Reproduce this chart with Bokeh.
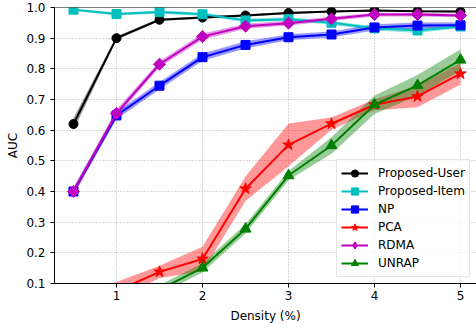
from bokeh.plotting import figure
from bokeh.models import Range1d, Span, Legend, LegendItem, FixedTicker
from bokeh.embed import file_html
from bokeh.resources import INLINE
import numpy as np

# ---- data ----
density = [0.5, 1.0, 1.5, 2.0, 2.5, 3.0, 3.5, 4.0, 4.5, 5.0]

proposed_user = [0.62, 0.90, 0.96, 0.967, 0.974, 0.982, 0.987, 0.99, 0.988, 0.987]
proposed_user_sd = [0.02, 0.006, 0.004, 0.004, 0.004, 0.003, 0.003, 0.003, 0.003, 0.003]

proposed_item = [0.993, 0.979, 0.985, 0.978, 0.958, 0.962, 0.95, 0.932, 0.925, 0.938]
proposed_item_sd = [0.004, 0.005, 0.005, 0.006, 0.006, 0.006, 0.006, 0.007, 0.008, 0.006]

np_auc = [0.40, 0.648, 0.745, 0.838, 0.878, 0.903, 0.912, 0.935, 0.941, 0.942]
np_sd = [0.012, 0.012, 0.012, 0.012, 0.012, 0.01, 0.01, 0.01, 0.01, 0.01]

pca = [0.03, 0.075, 0.138, 0.18, 0.409, 0.552, 0.621, 0.683, 0.71, 0.784]
pca_sd = [0.03, 0.03, 0.02, 0.04, 0.04, 0.07, 0.02, 0.018, 0.035, 0.035]

rdma = [0.40, 0.655, 0.815, 0.905, 0.939, 0.949, 0.963, 0.977, 0.977, 0.974]
rdma_sd = [0.012, 0.012, 0.01, 0.01, 0.008, 0.008, 0.007, 0.006, 0.006, 0.006]

unrap = [0.01, 0.03, 0.08, 0.151, 0.278, 0.452, 0.55, 0.683, 0.746, 0.829]
unrap_sd = [0.015, 0.015, 0.015, 0.015, 0.015, 0.015, 0.027, 0.03, 0.034, 0.035]

series_names = ["Proposed-User", "Proposed-Item", "NP", "PCA", "RDMA", "UNRAP"]
x_ticks = [1, 2, 3, 4, 5]
y_ticks = [0.1, 0.2, 0.3, 0.4, 0.5, 0.6, 0.7, 0.8, 0.9, 1.0]
y_tick_labels = ["0.1", "0.2", "0.3", "0.4", "0.5", "0.6", "0.7", "0.8", "0.9", "1.0"]

# ---- styles ----
FONT = "DejaVu Sans"
styles = [
    dict(color="#000000", marker="circle", size=9, angle=0.0, leg_marker="circle", leg_size=9),
    dict(color="#00bfbf", marker="square", size=9, angle=0.0, leg_marker="square", leg_size=9),
    dict(color="#0000ff", marker="square", size=9, angle=0.0, leg_marker="square", leg_size=9),
    dict(color="#ff0000", marker="star", size=12, angle=0.0, leg_marker="star", leg_size=12),
    dict(color="#bf00bf", marker="square", size=8.5, angle=np.pi / 4, leg_marker="diamond", leg_size=13),
    dict(color="#008000", marker="triangle", size=11, angle=0.0, leg_marker="triangle", leg_size=11),
]
values = [proposed_user, proposed_item, np_auc, pca, rdma, unrap]
sds = [proposed_user_sd, proposed_item_sd, np_sd, pca_sd, rdma_sd, unrap_sd]

p = figure(width=476, height=329, output_backend="svg", toolbar_location=None,
           x_range=Range1d(0.2791, 5.186), y_range=Range1d(0.1, 1.0),
           min_border_left=54, min_border_right=0, min_border_top=7,
           min_border_bottom=46)
p.outline_line_color = None
p.background_fill_color = "white"
p.border_fill_color = "white"

# bands first (beneath all lines)
for vals, sd, st in zip(values, sds, styles):
    v = np.array(vals)
    s = np.array(sd)
    p.varea(x=density, y1=v - s, y2=v + s, fill_color=st["color"], fill_alpha=0.4)

items = []
for name, vals, st in zip(series_names, values, styles):
    r1 = p.line(density, vals, line_color=st["color"], line_width=2)
    r2 = p.scatter(density, vals, marker=st["marker"], size=st["size"], angle=st["angle"],
                   fill_color=st["color"], line_color=st["color"])
    if st["leg_marker"] != st["marker"] or st["angle"] != 0.0:
        # legend-only glyph (not drawn in the plot: NaN position)
        r_leg = p.scatter(x=[np.nan], y=[np.nan], marker=st["leg_marker"], size=st["leg_size"],
                          fill_color=st["color"], line_color=st["color"])
        items.append(LegendItem(label=name, renderers=[r1, r_leg]))
    else:
        items.append(LegendItem(label=name, renderers=[r1, r2]))

legend = Legend(items=items, location=(282, 6))
legend.label_text_font = FONT
legend.label_text_font_size = "12px"
legend.label_text_color = "black"
legend.glyph_width = 27
legend.glyph_height = 18
legend.label_height = 18
legend.label_standoff = 10
legend.spacing = 0
legend.padding = 4
legend.margin = 0
legend.border_line_color = "#cccccc"
legend.border_line_width = 1
legend.background_fill_color = "white"
legend.background_fill_alpha = 0.8
p.add_layout(legend)

# top spine
p.add_layout(Span(location=1.0, dimension="width", line_color="black", line_width=1))

# axes
p.xaxis.ticker = FixedTicker(ticks=x_ticks)
p.yaxis.ticker = FixedTicker(ticks=y_ticks)
p.yaxis.major_label_overrides = {t: l for t, l in zip(y_ticks, y_tick_labels)}
p.xaxis.axis_label = "Density (%)"
p.yaxis.axis_label = "AUC"
for ax in (p.xaxis, p.yaxis):
    ax.axis_label_text_font = FONT
    ax.axis_label_text_font_size = "12px"
    ax.axis_label_text_font_style = "normal"
    ax.axis_label_text_color = "black"
    ax.major_label_text_font = FONT
    ax.major_label_text_font_size = "12px"
    ax.major_label_text_color = "black"
    ax.axis_line_color = "black"
    ax.axis_line_width = 1
    ax.major_tick_line_color = "black"
    ax.major_tick_out = 4
    ax.major_tick_in = 0
    ax.minor_tick_line_color = None
p.xaxis.major_label_standoff = 3
p.xaxis.axis_label_standoff = 6
p.yaxis.major_label_standoff = 5
p.yaxis.axis_label_standoff = 3

p.xgrid.ticker = FixedTicker(ticks=x_ticks)
p.ygrid.ticker = FixedTicker(ticks=y_ticks)
for g in (p.xgrid, p.ygrid):
    g.grid_line_color = "#b0b0b0"
    g.grid_line_dash = "1 2"
    g.grid_line_width = 1

open("out.html", "w").write(file_html(p, INLINE))
